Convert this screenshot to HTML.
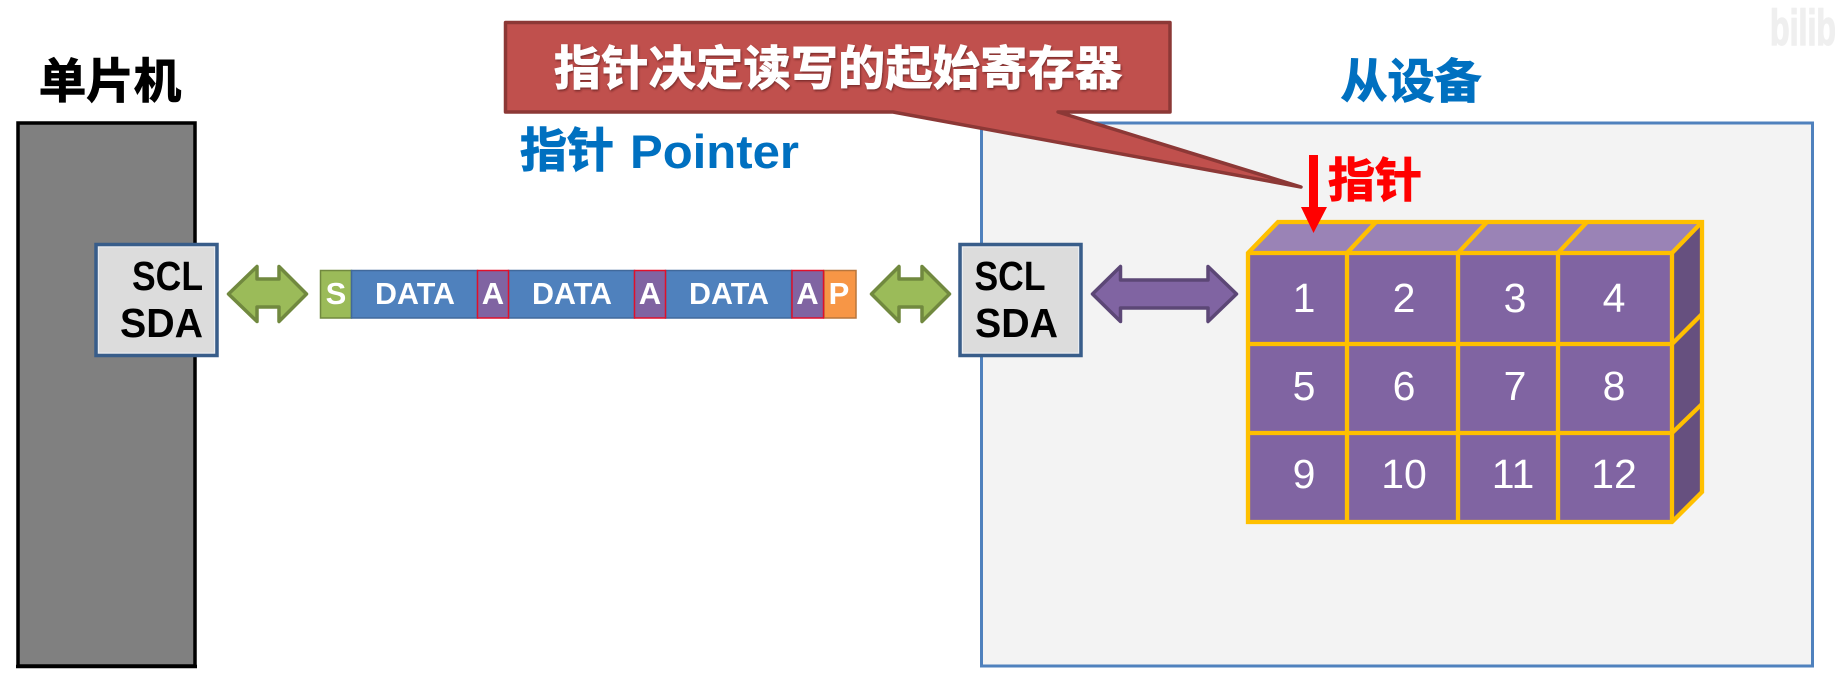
<!DOCTYPE html>
<html lang="zh-CN">
<head>
<meta charset="utf-8">
<title>指针 Pointer</title>
<style>
html,body{margin:0;padding:0;background:#fff;width:1835px;height:681px;overflow:hidden}
svg{display:block}
text{font-family:"Liberation Sans","Noto Sans CJK SC",sans-serif}
.cjk{font-family:"Noto Sans CJK SC","Liberation Sans",sans-serif;font-weight:700;stroke-width:1}
.b{font-weight:700}
.w{fill:#fff;stroke:#fff}
.d{font-size:31px;font-weight:700;fill:#fff;text-anchor:middle}
.n{font-size:41px;fill:#fff;text-anchor:middle}
.y{stroke:#ffc000;stroke-width:4.3;stroke-linejoin:miter;fill:none}
</style>
</head>
<body>
<svg width="1835" height="681" viewBox="0 0 1835 681" xmlns="http://www.w3.org/2000/svg">
<defs>
<filter id="s" x="-5%" y="-10%" width="110%" height="120%"><feDropShadow dx="1" dy="1.5" stdDeviation="1" flood-color="#5a1f1d" flood-opacity=".7"/></filter>
</defs>

<!-- watermark -->
<text x="1770" y="45" class="b" font-size="50" fill="#efefef" stroke="#efefef" stroke-width="1.5" textLength="66" lengthAdjust="spacingAndGlyphs">bilib</text>

<!-- MCU -->
<rect x="18" y="123" width="177" height="543" fill="#808080" stroke="#000" stroke-width="3.5"/>
<path d="M16,666.5H197" stroke="#000" stroke-width="3.5" fill="none"/>
<text x="110" y="98" text-anchor="middle" class="cjk" font-size="47.5" fill="#000" stroke="#000">单片机</text>

<!-- Slave device -->
<rect x="981.5" y="123" width="831" height="543" fill="#f3f3f3" stroke="#4f81bd" stroke-width="3"/>
<text x="1411" y="98" text-anchor="middle" class="cjk" font-size="47" fill="#0070c0" stroke="#0070c0">从设备</text>

<!-- Pointer title -->
<text x="520" y="167" class="cjk" font-size="47" fill="#0070c0" stroke="#0070c0">指针</text>
<text x="630" y="168" class="b" font-size="47" fill="#0070c0" textLength="169" lengthAdjust="spacingAndGlyphs">Pointer</text>

<!-- SCL/SDA left -->
<rect x="96" y="244.5" width="121" height="111" fill="#dcdcdc" stroke="#385d8a" stroke-width="3.5"/>
<rect x="98.5" y="247" width="116" height="106" fill="none" stroke="#e9edf2" stroke-width="1"/>
<text x="132" y="290" class="b" font-size="41" fill="#000" textLength="71" lengthAdjust="spacingAndGlyphs">SCL</text>
<text x="120" y="337" class="b" font-size="41" fill="#000" textLength="83" lengthAdjust="spacingAndGlyphs">SDA</text>

<!-- SCL/SDA right -->
<rect x="960" y="244.5" width="121" height="111" fill="#dcdcdc" stroke="#385d8a" stroke-width="3.5"/>
<rect x="962.5" y="247" width="116" height="106" fill="none" stroke="#e9edf2" stroke-width="1"/>
<text x="974.5" y="290" class="b" font-size="41" fill="#000" textLength="71" lengthAdjust="spacingAndGlyphs">SCL</text>
<text x="975" y="337" class="b" font-size="41" fill="#000" textLength="83" lengthAdjust="spacingAndGlyphs">SDA</text>

<!-- Green arrows -->
<polygon points="228.5,294 257,266.5 257,279 279,279 279,266.5 306.5,294 279,321.5 279,307 257,307 257,321.5" fill="#9bbb59" stroke="#71893f" stroke-width="3.5" stroke-linejoin="round"/>
<polygon points="871.5,294 899,266.5 899,279 922,279 922,266.5 949.5,294 922,321.5 922,307 899,307 899,321.5" fill="#9bbb59" stroke="#71893f" stroke-width="3.5" stroke-linejoin="round"/>

<!-- Purple arrow -->
<polygon points="1092.5,294 1120.5,266.5 1120.5,280 1208,280 1208,266.5 1236.5,294 1208,321.5 1208,308 1120.5,308 1120.5,321.5" fill="#8064a2" stroke="#5c4776" stroke-width="3.5" stroke-linejoin="round"/>

<!-- Frame bar -->
<g stroke-width="1.5">
<rect x="320.5" y="270.5" width="31" height="47.5" fill="#9bbb59" stroke="#71893f"/>
<rect x="351.5" y="270.5" width="126" height="47.5" fill="#4f81bd" stroke="#41699b"/>
<rect x="508.5" y="270.5" width="126" height="47.5" fill="#4f81bd" stroke="#41699b"/>
<rect x="665.5" y="270.5" width="126" height="47.5" fill="#4f81bd" stroke="#41699b"/>
<rect x="824" y="270.5" width="32" height="47.5" fill="#f79646" stroke="#b8763d"/>
<rect x="477.5" y="270.5" width="31" height="47.5" fill="#8064a2" stroke="#e0102a"/>
<rect x="634.5" y="270.5" width="31" height="47.5" fill="#8064a2" stroke="#e0102a"/>
<rect x="792" y="270.5" width="31.5" height="47.5" fill="#8064a2" stroke="#e0102a"/>
</g>
<text x="336" y="304" class="d">S</text>
<text x="415" y="304" class="d" textLength="80" lengthAdjust="spacingAndGlyphs">DATA</text>
<text x="493" y="304" class="d">A</text>
<text x="572" y="304" class="d" textLength="80" lengthAdjust="spacingAndGlyphs">DATA</text>
<text x="650" y="304" class="d">A</text>
<text x="729" y="304" class="d" textLength="80" lengthAdjust="spacingAndGlyphs">DATA</text>
<text x="807.5" y="304" class="d">A</text>
<text x="839" y="304" class="d">P</text>

<!-- 3D register block -->
<polygon points="1248,253 1278,222 1702,222 1672,253" fill="#9a83b6"/>
<polygon points="1672,253 1702,222 1702,492 1672,522" fill="#66507f"/>
<rect x="1248" y="253" width="424" height="269" fill="#8064a2"/>
<g class="y">
<polygon points="1248,253 1278,222 1702,222 1702,492 1672,522 1248,522"/>
<path d="M1248,253H1672M1248,344H1672M1248,433H1672M1672,253V522M1347,253V522M1458,253V522M1558,253V522"/>
<path d="M1347,253L1376,222M1458,253L1487,222M1558,253L1587,222M1672,253L1702,222M1672,344L1702,314M1672,433L1702,404"/>
</g>
<text x="1304" y="312" class="n">1</text>
<text x="1404" y="312" class="n">2</text>
<text x="1515" y="312" class="n">3</text>
<text x="1614" y="312" class="n">4</text>
<text x="1304" y="400" class="n">5</text>
<text x="1404" y="400" class="n">6</text>
<text x="1515" y="400" class="n">7</text>
<text x="1614" y="400" class="n">8</text>
<text x="1304" y="488" class="n">9</text>
<text x="1404" y="488" class="n">10</text>
<text x="1513" y="488" class="n">11</text>
<text x="1614" y="488" class="n">12</text>

<!-- Red pointer arrow -->
<polygon points="1309,155 1318,155 1318,207 1327,207 1313.5,233 1301,207 1309,207" fill="#ff0000"/>
<text x="1328" y="197" class="cjk" font-size="47" fill="#ff0000" stroke="#ff0000">指针</text>

<!-- Callout -->
<polygon points="505.5,22.5 1170,22.5 1170,112 1058,112 1301,187 893,112 505.5,112" fill="#c0504d" stroke="#8c3836" stroke-width="3.5" stroke-linejoin="round"/>
<text x="554" y="85" class="cjk w" font-size="47" textLength="568" filter="url(#s)">指针决定读写的起始寄存器</text>
</svg>
</body>
</html>
